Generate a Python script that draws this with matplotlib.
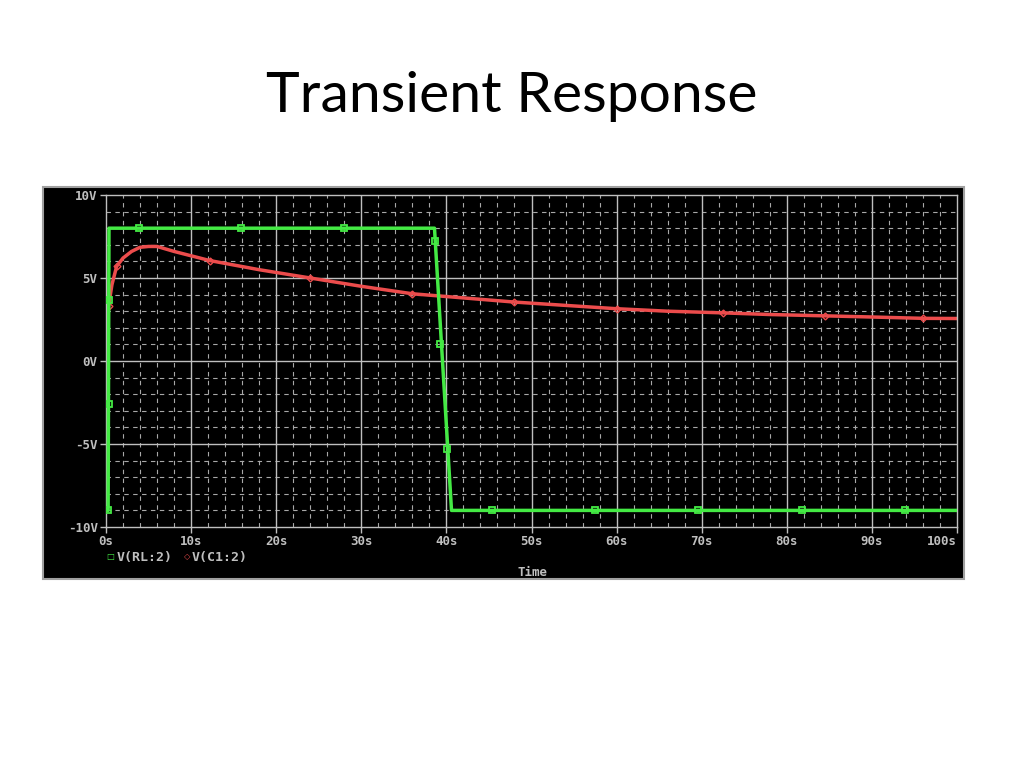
import matplotlib.pyplot as plt
from matplotlib.patches import Rectangle

# V(RL:2) - square wave across the load
t_rl = [0, 0.25, 0.35, 38.6, 40.6, 100]
v_rl = [-9, -9, 8, 8, -9, -9]
# marker positions of V(RL:2)
t_rl_mk = [0.25, 0.3, 0.35, 3.9, 15.9, 28.0, 38.7, 39.3, 40.1, 45.4, 57.5, 69.6, 81.8, 93.9]
v_rl_mk = [-9, -2.6, 3.7, 8, 8, 8, 7.2, 1.0, -5.3, -9, -9, -9, -9, -9]

# V(C1:2) - capacitor voltage
t_c1 = [0, 0.3, 0.7, 1.25, 2, 3, 4, 5, 6, 8, 12.2, 18, 24, 30, 36, 42, 48, 54,
        60, 66, 72.5, 78, 84.5, 90, 96, 100]
v_c1 = [2.3, 3.3, 4.6, 5.7, 6.2, 6.6, 6.85, 6.9, 6.9, 6.6, 6.05, 5.5, 5.0, 4.5,
        4.05, 3.8, 3.55, 3.35, 3.15, 3.0, 2.9, 2.8, 2.72, 2.65, 2.57, 2.56]
c1_marks = [1, 3, 10, 12, 14, 16, 18, 20, 22, 24]

x_ticks = [0, 10, 20, 30, 40, 50, 60, 70, 80, 90, 100]
x_labels = ["0s", "10s", "20s", "30s", "40s", "50s", "60s", "70s", "80s", "90s", "100s"]
y_ticks = [-10, -5, 0, 5, 10]
y_labels = ["-10V", "-5V", "0V", "5V", "10V"]

W, H = 1024, 768
fig = plt.figure(figsize=(W / 100, H / 100), dpi=100)
fig.patch.set_facecolor("white")

# black probe window (behind the axes)
fig.patches.append(Rectangle((43 / W, 1 - 579 / H), (964 - 43) / W, (579 - 187) / H,
                             transform=fig.transFigure, facecolor="black",
                             edgecolor="#a0a0a0", linewidth=1.5, zorder=-10))

fig.text(512 / W, 1 - 97 / H, "Transient Response", ha="center", va="center",
         fontsize=41, family=["Lato", "DejaVu Sans"], color="black")

ax = fig.add_axes([106 / W, 1 - 527 / H, (957 - 106) / W, (527 - 195) / H])
ax.set_facecolor("black")
ax.set_xlim(0, 100)
ax.set_ylim(-10, 10)

gc = "#bfbfbf"
dc = "#a8a8a8"
for t in range(2, 100, 2):
    if t % 10:
        ax.axvline(t, color=dc, lw=0.8, ls=(0, (4, 4)), zorder=1)
for v in range(-9, 10):
    if v % 5:
        ax.axhline(v, color=dc, lw=0.8, ls=(0, (4, 4)), zorder=1)
for t in x_ticks[1:-1]:
    ax.axvline(t, color=gc, lw=1, zorder=1)
for v in y_ticks[1:-1]:
    ax.axhline(v, color=gc, lw=1, zorder=1)

for s in ax.spines.values():
    s.set_color(gc)
    s.set_linewidth(1)

mono = {"family": "DejaVu Sans Mono", "weight": "bold", "size": 9}
ax.set_xticks(x_ticks)
ax.set_xticklabels(x_labels, color=gc, fontdict=mono)
ax.get_xticklabels()[-1].set_horizontalalignment("right")
ax.set_yticks(y_ticks)
ax.set_yticklabels(y_labels, color=gc, fontdict=mono)
ax.tick_params(colors=gc, length=4, width=1, pad=2)

green = "#44ea44"
red = "#ec4c4c"
ax.plot(t_rl, v_rl, color=green, lw=2.5, zorder=3)
ax.plot(t_rl_mk, v_rl_mk, ls="none", marker="s", ms=4.5, mfc="none", mec=green,
        mew=1.3, zorder=4)
ax.plot(t_c1, v_c1, color=red, lw=2.5, marker="D", ms=3.5, mfc="none", mec=red,
        mew=1, markevery=c1_marks, zorder=2)

# legend and axis title like the probe window
leg = {"family": "DejaVu Sans Mono", "weight": "bold", "size": 9.5}
fig.text(110 / W, 1 - 557 / H, "\u25a1", color=green, fontsize=6, ha="center",
         va="center", family="DejaVu Sans")
fig.text(117 / W, 1 - 557 / H, "V(RL:2)", color=gc, va="center", **leg)
fig.text(187 / W, 1 - 557 / H, "\u25c7", color=red, fontsize=6, ha="center",
         va="center", family="DejaVu Sans")
fig.text(192 / W, 1 - 557 / H, "V(C1:2)", color=gc, va="center", **leg)
fig.text(532 / W, 1 - 572 / H, "Time", color=gc, ha="center", va="center", **mono)

fig.savefig("out.png", dpi=100, facecolor="white")
